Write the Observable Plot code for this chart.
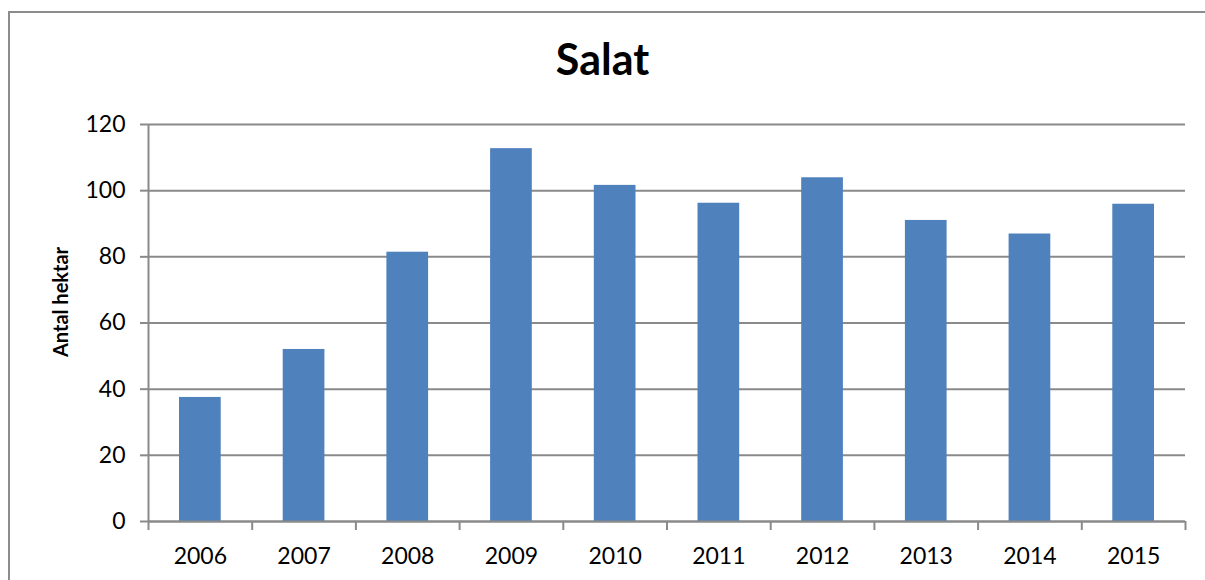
<!DOCTYPE html>
<html>
<head>
<meta charset="utf-8">
<script src="https://cdn.jsdelivr.net/npm/d3@7"></script>
<script src="https://cdn.jsdelivr.net/npm/@observablehq/plot@0.6"></script>
<style>
  html, body { margin: 0; padding: 0; background: #fff; overflow: hidden; }
  #wrap { position: relative; width: 1205px; height: 580px; overflow: hidden; }
  #frame { position: absolute; left: 8px; top: 11px; width: 1400px; height: 800px; border-left: 2px solid #8c8c8c; border-top: 2px solid #8c8c8c; box-sizing: border-box; }
  #title { position: absolute; left: 0; width: 1205px; top: 33px; text-align: center; font-family: Lato, sans-serif; font-weight: bold; font-size: 43px; color: #000; line-height: normal; }
  #ylabel { position: absolute; left: 60px; top: 302px; transform: translate(-50%, -50%) rotate(-90deg); white-space: nowrap; font-family: Lato, sans-serif; font-weight: bold; font-size: 20px; color: #000; }
  #chart { position: absolute; left: 0; top: 100px; }
</style>
</head>
<body>
<div id="wrap">
  <div id="frame"></div>
  <div id="title">Salat</div>
  <div id="chart"></div>
  <div id="ylabel"></div>
</div>
<script>
const years = ["2006", "2007", "2008", "2009", "2010", "2011", "2012", "2013", "2014", "2015"];
const hectares = [37.5, 52.0, 81.4, 112.7, 101.6, 96.2, 103.9, 91.0, 86.9, 95.9];
const yTicks = [0, 20, 40, 60, 80, 100, 120];
const yLabel = "Antal hektar";

document.getElementById("ylabel").textContent = yLabel;

const data = years.map((year, i) => ({year, i, value: hectares[i]}));
const gray = "#8a8a8a";

const chart = Plot.plot({
  width: 1205,
  height: 480,
  marginTop: 24,
  marginBottom: 59,
  marginLeft: 148,
  marginRight: 20,
  style: {fontFamily: "Lato, sans-serif", fontSize: "23px", color: "#000", background: "transparent"},
  x: {type: "linear", domain: [0, years.length]},
  y: {domain: [0, 120]},
  marks: [
    Plot.gridY(yTicks, {stroke: gray, strokeOpacity: 1, strokeWidth: 2}),
    Plot.rectY(data, {x1: "i", x2: d => d.i + 1, y: "value", fill: "#4f81bd", insetLeft: 31, insetRight: 31}),
    Plot.ruleY([0], {stroke: gray, strokeWidth: 2}),
    Plot.axisY(yTicks, {tickSize: 8, tickPadding: 15, stroke: gray, strokeWidth: 2, label: null, fill: "#000"}),
    Plot.ruleX([0], {stroke: gray, strokeWidth: 2}),
    Plot.axisX(d3.range(0, years.length + 1), {tickSize: 9, tickFormat: () => "", stroke: gray, strokeWidth: 2, label: null}),
    Plot.axisX(years.map((_, i) => i + 0.5), {tickSize: 0, tickPadding: 26, tickFormat: v => years[Math.round(v - 0.5)], label: null, fill: "#000"})
  ]
});
document.getElementById("chart").appendChild(chart);
</script>
</body>
</html>
